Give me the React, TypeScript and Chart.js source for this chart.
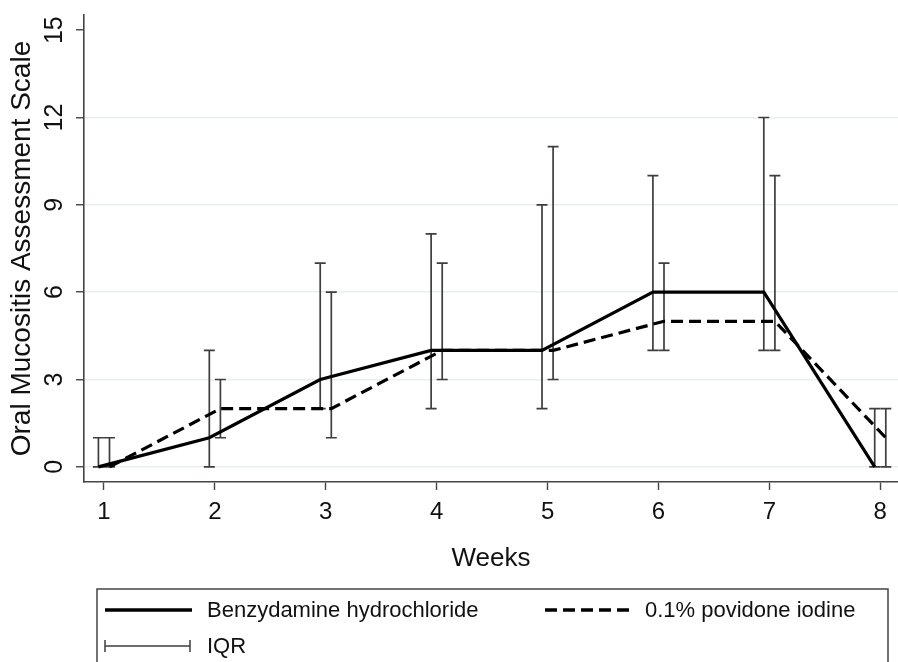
import React, { useEffect, useRef } from 'react';
import { Chart, registerables } from 'chart.js';

Chart.register(...registerables);

// ---- data ----
const weeks = [1, 2, 3, 4, 5, 6, 7, 8];
const benzMedian = [0, 1, 3, 4, 4, 6, 6, 0];
const benzQ1 = [0, 0, 2, 2, 2, 4, 4, 0];
const benzQ3 = [1, 4, 7, 8, 9, 10, 12, 2];
const povMedian = [0, 2, 2, 4, 4, 5, 5, 1];
const povQ1 = [0, 1, 1, 3, 3, 4, 4, 0];
const povQ3 = [1, 3, 6, 7, 11, 7, 10, 2];
const yTicks = [0, 3, 6, 9, 12, 15];
const xTicks = [1, 2, 3, 4, 5, 6, 7, 8];
const seriesNames = ['Benzydamine hydrochloride', '0.1% povidone iodine'];
const iqrLabel = 'IQR';
const xTitle = 'Weeks';
const yTitle = 'Oral Mucositis Assessment Scale';

const SHIFT = 0.05;
const FONT = "'Liberation Sans', Arial, Helvetica, sans-serif";
const AXIS = '#444444';
const BAR = '#3e3e3e';

const iqrPlugin = {
  id: 'iqrBars',
  beforeDatasetsDraw(chart: any) {
    const { ctx, scales } = chart;
    const x = scales.x;
    const y = scales.y;
    ctx.save();
    ctx.strokeStyle = BAR;
    ctx.lineWidth = 1.7;
    const cap = 5.5;
    const draw = (q1: number[], q3: number[], dx: number) => {
      weeks.forEach((w, i) => {
        const px = x.getPixelForValue(w + dx);
        const lo = y.getPixelForValue(q1[i]);
        const hi = y.getPixelForValue(q3[i]);
        ctx.beginPath();
        ctx.moveTo(px, lo);
        ctx.lineTo(px, hi);
        ctx.moveTo(px - cap, lo);
        ctx.lineTo(px + cap, lo);
        ctx.moveTo(px - cap, hi);
        ctx.lineTo(px + cap, hi);
        ctx.stroke();
      });
    };
    draw(benzQ1, benzQ3, -SHIFT);
    draw(povQ1, povQ3, SHIFT);
    ctx.restore();
  },
};

const legendPlugin = {
  id: 'stataLegend',
  afterDraw(chart: any) {
    const { ctx } = chart;
    ctx.save();
    ctx.strokeStyle = AXIS;
    ctx.lineWidth = 1.5;
    ctx.strokeRect(97, 589, 791, 120);
    ctx.font = `22px ${FONT}`;
    ctx.fillStyle = '#111';
    ctx.textBaseline = 'middle';
    ctx.textAlign = 'left';
    // solid
    ctx.strokeStyle = '#000';
    ctx.lineWidth = 3.5;
    ctx.setLineDash([]);
    ctx.beginPath();
    ctx.moveTo(105, 610);
    ctx.lineTo(192, 610);
    ctx.stroke();
    ctx.fillText(seriesNames[0], 207, 611);
    // dashed
    ctx.setLineDash([12, 6]);
    ctx.beginPath();
    ctx.moveTo(545, 610);
    ctx.lineTo(630, 610);
    ctx.stroke();
    ctx.setLineDash([]);
    ctx.fillText(seriesNames[1], 645, 611);
    // IQR
    ctx.strokeStyle = BAR;
    ctx.lineWidth = 1.5;
    ctx.beginPath();
    ctx.moveTo(105, 646);
    ctx.lineTo(190, 646);
    ctx.moveTo(105, 640);
    ctx.lineTo(105, 652);
    ctx.moveTo(190, 640);
    ctx.lineTo(190, 652);
    ctx.stroke();
    ctx.fillText(iqrLabel, 207, 647);
    ctx.restore();
  },
};

export default function App() {
  const ref = useRef<HTMLCanvasElement | null>(null);

  useEffect(() => {
    document.body.style.margin = '0';
    const canvas = ref.current;
    if (!canvas) return;
    const chart = new Chart(canvas, {
      type: 'line',
      data: {
        datasets: [
          {
            label: seriesNames[0],
            data: weeks.map((w, i) => ({ x: w - SHIFT, y: benzMedian[i] })),
            borderColor: '#000',
            borderWidth: 3.2,
            pointRadius: 0,
            fill: false,
            tension: 0,
          },
          {
            label: seriesNames[1],
            data: weeks.map((w, i) => ({ x: w + SHIFT, y: povMedian[i] })),
            borderColor: '#000',
            borderWidth: 3.2,
            borderDash: [12, 6],
            pointRadius: 0,
            fill: false,
            tension: 0,
          },
        ],
      },
      options: {
        animation: false,
        responsive: false,
        maintainAspectRatio: false,
        layout: { padding: { left: 0, top: 15, right: 0, bottom: 88 } },
        plugins: { legend: { display: false }, tooltip: { enabled: false } },
        scales: {
          x: {
            type: 'linear',
            min: 0.82,
            max: 8.16,
            afterBuildTicks: (s: any) => {
              s.ticks = xTicks.map((v) => ({ value: v }));
            },
            afterFit: (s: any) => {
              s.height = 92;
              s.paddingLeft = 0;
              s.paddingRight = 0;
            },
            grid: {
              drawOnChartArea: false,
              drawTicks: true,
              tickLength: 8,
              tickColor: AXIS,
              tickWidth: 1.4,
            },
            border: { color: AXIS, width: 1.6 },
            ticks: {
              font: { family: FONT, size: 24 },
              color: '#111',
              padding: 8,
              maxRotation: 0,
              minRotation: 0,
              callback: (v: any) => String(v),
            },
            title: {
              display: true,
              text: xTitle,
              font: { family: FONT, size: 26, lineHeight: 1.2 },
              color: '#111',
              padding: { top: 0, bottom: 0 },
            },
          },
          y: {
            type: 'linear',
            min: -0.52,
            max: 15.52,
            afterBuildTicks: (s: any) => {
              s.ticks = yTicks.map((v) => ({ value: v }));
            },
            afterFit: (s: any) => {
              s.width = 84;
              s.paddingTop = 0;
              s.paddingBottom = 0;
            },
            grid: {
              drawOnChartArea: true,
              drawTicks: true,
              tickLength: 8,
              tickColor: AXIS,
              tickWidth: 1.4,
              color: (c: any) => (c.tick && c.tick.value === 15 ? 'rgba(0,0,0,0)' : '#e8eff1'),
              lineWidth: 1.5,
            },
            border: { color: AXIS, width: 1.6 },
            ticks: {
              font: { family: FONT, size: 25 },
              color: '#111',
              padding: 7,
              minRotation: 90,
              maxRotation: 90,
              crossAlign: 'center',
              callback: (v: any) => String(v),
            },
            title: {
              display: true,
              text: yTitle,
              font: { family: FONT, size: 28, lineHeight: 1.2 },
              color: '#111',
              padding: { top: 5, bottom: 0 },
            },
          },
        },
      },
      plugins: [iqrPlugin, legendPlugin],
    } as any);
    return () => chart.destroy();
  }, []);

  return (
    <div style={{ position: 'absolute', left: 0, top: 0, width: 898, height: 662, background: '#fff' }}>
      <canvas ref={ref} width={898} height={662} style={{ display: 'block' }} />
    </div>
  );
}
